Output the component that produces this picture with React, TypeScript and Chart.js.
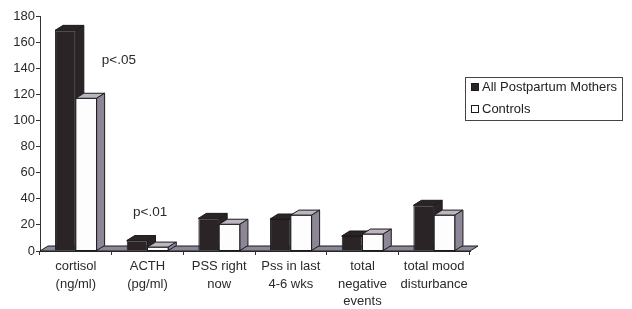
import React, { useEffect, useRef } from "react";
import { Chart, registerables } from "chart.js";

Chart.register(...registerables);

const categories: string[][] = [
  ["cortisol", "(ng/ml)"],
  ["ACTH", "(pg/ml)"],
  ["PSS right", "now"],
  ["Pss in last", "4-6 wks"],
  ["total", "negative", "events"],
  ["total mood", "disturbance"],
];
const seriesNames = ["All Postpartum Mothers", "Controls"];
const mothers = [169, 8, 25, 24.5, 11.5, 35];
const controls = [117, 3, 20.5, 27.5, 13, 27.5];
const yMin = 0;
const yMax = 180;
const yStep = 20;
const annotationTexts = ["p<.05", "p<.01"];
const annotationCategories = [0, 1];
const annotationValues = [146, 30];

const FONT = "'Liberation Sans', Arial, sans-serif";
const DARK = "#2b2426";
const LIGHT = "#fdfdfd";
const EDGE = "#1c1a1c";
const SIDE = "#8d8696";
const TOPLIGHT = "#bdb6c0";
const DX = 8;
const DY = -5;

function poly(ctx: CanvasRenderingContext2D, pts: number[][], fill: string) {
  ctx.beginPath();
  ctx.moveTo(pts[0][0], pts[0][1]);
  for (let i = 1; i < pts.length; i++) ctx.lineTo(pts[i][0], pts[i][1]);
  ctx.closePath();
  ctx.fillStyle = fill;
  ctx.fill();
  ctx.strokeStyle = EDGE;
  ctx.lineWidth = 1;
  ctx.stroke();
}

const threeD = {
  id: "threeD",
  beforeDatasetsDraw(chart: any) {
    const ctx = chart.ctx as CanvasRenderingContext2D;
    const x = chart.scales.x;
    const y = chart.scales.y;
    const b = y.getPixelForValue(0);
    ctx.save();
    poly(
      ctx,
      [
        [x.left, b],
        [x.right, b],
        [x.right + DX, b + DY],
        [x.left + DX, b + DY],
      ],
      SIDE
    );
    ctx.restore();
  },
  afterDatasetsDraw(chart: any) {
    const ctx = chart.ctx as CanvasRenderingContext2D;
    const m0 = chart.getDatasetMeta(0);
    const m1 = chart.getDatasetMeta(1);
    ctx.save();
    for (let i = 0; i < m0.data.length; i++) {
      const a = m0.data[i];
      const c = m1.data[i];
      const a0 = a.x - a.width / 2;
      const a1 = a.x + a.width / 2;
      poly(ctx, [[a0, a.y], [a1, a.y], [a1 + DX, a.y + DY], [a0 + DX, a.y + DY]], DARK);
      poly(ctx, [[a1, a.y], [a1 + DX, a.y + DY], [a1 + DX, a.base + DY], [a1, a.base]], DARK);
      const c0 = c.x - c.width / 2;
      const c1 = c.x + c.width / 2;
      ctx.fillStyle = LIGHT;
      ctx.fillRect(c0, c.y, c.width, c.base - c.y);
      ctx.strokeStyle = EDGE;
      ctx.lineWidth = 1;
      ctx.strokeRect(c0, c.y, c.width, c.base - c.y);
      poly(ctx, [[c0, c.y], [c1, c.y], [c1 + DX, c.y + DY], [c0 + DX, c.y + DY]], TOPLIGHT);
      poly(ctx, [[c1, c.y], [c1 + DX, c.y + DY], [c1 + DX, c.base + DY], [c1, c.base]], SIDE);
    }
    ctx.restore();
  },
  afterDraw(chart: any) {
    const ctx = chart.ctx as CanvasRenderingContext2D;
    const x = chart.scales.x;
    const y = chart.scales.y;
    ctx.save();
    ctx.font = `13.5px ${FONT}`;
    ctx.fillStyle = "#2a2a2a";
    ctx.textBaseline = "middle";
    ctx.textAlign = "left";
    const offs = [26, -14.5];
    annotationTexts.forEach((t, k) => {
      ctx.fillText(
        t,
        x.getPixelForValue(annotationCategories[k]) + offs[k],
        y.getPixelForValue(annotationValues[k])
      );
    });
    // legend
    const lx = 465;
    const ly = 77;
    ctx.strokeStyle = "#444";
    ctx.lineWidth = 1;
    ctx.strokeRect(lx + 0.5, ly + 0.5, 157, 43);
    ctx.font = `13px ${FONT}`;
    const fills = [DARK, LIGHT];
    chart.data.datasets.forEach((ds: any, k: number) => {
      const cy = ly + 10.5 + k * 22;
      ctx.fillStyle = fills[k];
      ctx.fillRect(lx + 6.5, cy - 4, 7, 7);
      ctx.strokeStyle = EDGE;
      ctx.strokeRect(lx + 6.5, cy - 4, 7, 7);
      ctx.fillStyle = "#222";
      ctx.fillText(ds.label, lx + 17, cy);
    });
    ctx.restore();
  },
};

export default function App() {
  const ref = useRef<HTMLCanvasElement>(null);
  useEffect(() => {
    if (!ref.current) return;
    const chart = new Chart(ref.current, {
      type: "bar",
      data: {
        labels: categories,
        datasets: [
          {
            label: seriesNames[0],
            data: mothers,
            backgroundColor: DARK,
            borderColor: EDGE,
            borderWidth: 1,
          },
          {
            label: seriesNames[1],
            data: controls,
            backgroundColor: LIGHT,
            borderColor: EDGE,
            borderWidth: 1,
          },
        ],
      },
      options: {
        animation: false,
        responsive: false,
        maintainAspectRatio: false,
        layout: { padding: { left: 0, right: 162, top: 16, bottom: 0 } },
        datasets: { bar: { categoryPercentage: 0.58, barPercentage: 1.0 } },
        plugins: { legend: { display: false }, tooltip: { enabled: false } },
        scales: {
          x: {
            grid: { display: true, drawOnChartArea: false, tickLength: 4, color: "#333", offset: true },
            border: { display: true, color: "#333" },
            ticks: {
              color: "#2a2a2a",
              font: { family: FONT, size: 13, lineHeight: 1.35 },
              padding: 3,
              maxRotation: 0,
              autoSkip: false,
            },
            afterFit: (s: any) => {
              s.height = 58;
            },
          },
          y: {
            min: yMin,
            max: yMax,
            grid: { display: true, drawOnChartArea: false, tickLength: 4, color: "#333" },
            border: { display: true, color: "#333" },
            ticks: {
              stepSize: yStep,
              color: "#2a2a2a",
              font: { family: FONT, size: 13 },
              padding: 1,
            },
            afterFit: (s: any) => {
              s.width = 40;
            },
          },
        },
      },
      plugins: [threeD],
    });
    return () => chart.destroy();
  }, []);
  return (
    <div style={{ position: "absolute", left: 0, top: 0, width: 632, height: 309, background: "#fff" }}>
      <canvas ref={ref} width={632} height={309} style={{ width: 632, height: 309 }} />
    </div>
  );
}
